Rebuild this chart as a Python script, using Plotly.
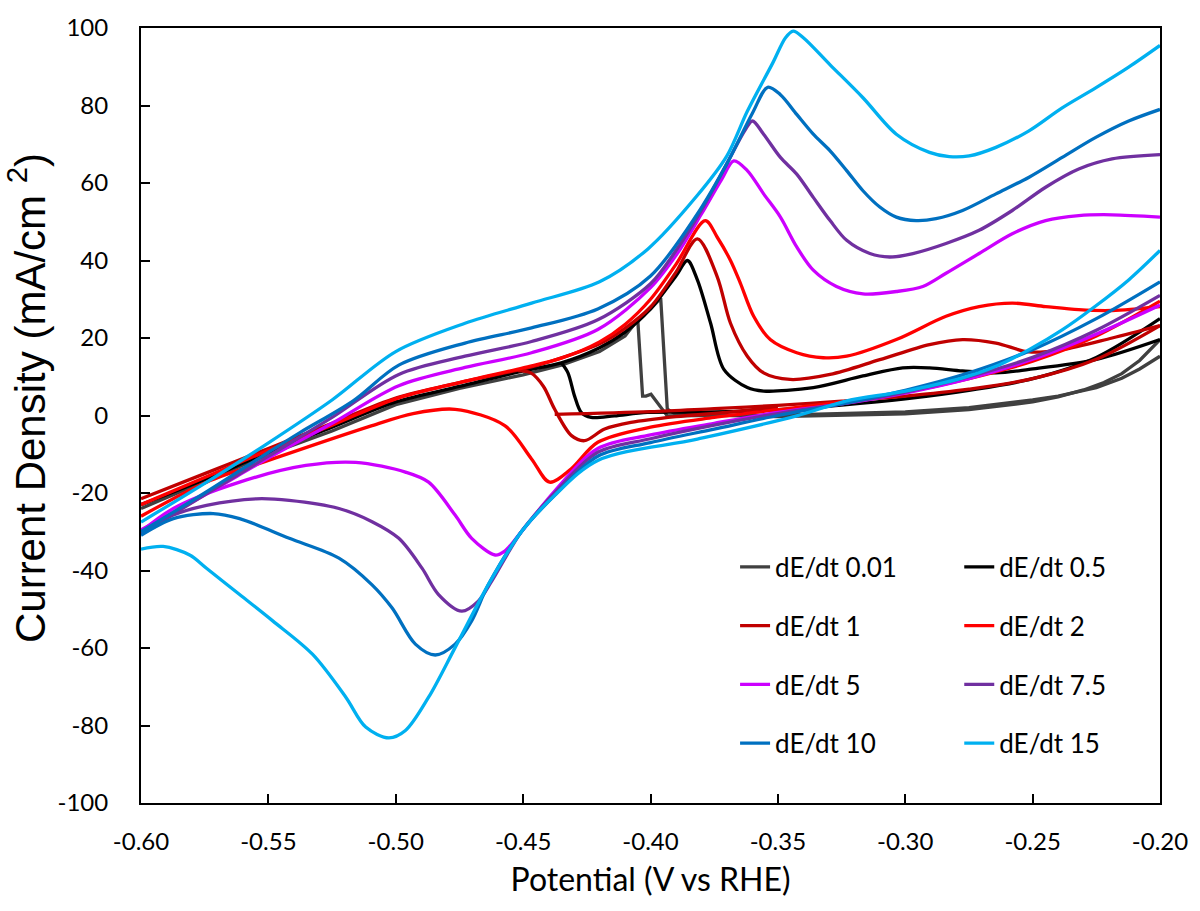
import plotly.graph_objects as go

# ---------------- data (potential V vs RHE, current density mA/cm2) ----------------
names = ["dE/dt 0.01", "dE/dt 0.5", "dE/dt 1", "dE/dt 2",
         "dE/dt 5", "dE/dt 7.5", "dE/dt 10", "dE/dt 15"]
colors = ["#404040", "#000000", "#C00000", "#FF0000",
          "#CC00FF", "#7030A0", "#0070C0", "#00B0F0"]

# dE/dt 0.01
g_fx = [-0.600, -0.575, -0.550, -0.525, -0.500, -0.475, -0.450, -0.435, -0.420, -0.410, -0.405, -0.400, -0.396,
        -0.3934, -0.390, -0.350, -0.300, -0.275, -0.250, -0.240, -0.230, -0.222, -0.215, -0.208, -0.200]
g_fy = [-24.0, -17.0, -10.0, -4.0, 2.8, 7.0, 10.5, 13.0, 16.5, 20.5, 24.7, 27.5, 30.3,
        1.6, 0.3, -0.3, 0.4, 1.5, 3.5, 4.8, 6.6, 8.5, 10.8, 14.2, 19.6]
g_rx = [-0.200, -0.208, -0.215, -0.225, -0.240, -0.250, -0.275, -0.300, -0.350, -0.3934, -0.3998, -0.4018,
        -0.4031, -0.405]
g_ry = [15.3, 12.0, 9.6, 7.2, 5.0, 4.0, 2.0, 0.9, 0.1, -0.1, 5.5, 5.0,
        5.0, 24.7]

# dE/dt 0.5
k_fx = [-0.600, -0.575, -0.550, -0.525, -0.500, -0.475, -0.450, -0.435, -0.420, -0.410, -0.400, -0.390, -0.3855,
        -0.3816, -0.3764, -0.3712, -0.362, -0.3556, -0.3361, -0.3166, -0.301, -0.2905, -0.2775, -0.2644, -0.2514,
        -0.2254, -0.200]
k_fy = [-23.0, -16.5, -9.5, -3.0, 3.5, 7.5, 11.5, 13.6, 17.5, 21.5, 27.5, 36.0, 40.0,
        35.0, 23.8, 11.9, 7.2, 6.3, 7.2, 10.2, 12.3, 12.3, 11.5, 11.0, 11.9,
        14.4, 19.6]
k_rx = [-0.200, -0.225, -0.250, -0.275, -0.300, -0.325, -0.350, -0.375, -0.4012, -0.4142, -0.4233, -0.4272,
        -0.4298, -0.4324, -0.435]
k_ry = [25.0, 15.0, 9.5, 6.5, 4.3, 2.7, 1.5, 0.9, 0.8, -0.1, -0.5, 0.8, 5.0, 11.0, 13.6]

# dE/dt 1
d_fx = [-0.600, -0.575, -0.550, -0.525, -0.500, -0.475, -0.450, -0.440, -0.420, -0.410, -0.400, -0.390,
        -0.3816, -0.3738, -0.3686, -0.362, -0.3556, -0.3452, -0.3295, -0.310, -0.2905, -0.2775, -0.2644,
        -0.2514, -0.2384, -0.2188, -0.200]
d_fy = [-21.5, -15.0, -8.5, -2.0, 4.5, 8.5, 12.0, 13.8, 18.5, 22.5, 28.0, 37.0,
        45.6, 35.8, 23.8, 15.3, 11.0, 9.3, 10.6, 14.4, 18.3, 19.6, 18.7,
        16.4, 17.0, 20.0, 23.2]
d_rx = [-0.200, -0.225, -0.250, -0.275, -0.300, -0.325, -0.350, -0.375, -0.400, -0.4376]
d_ry = [23.2, 14.5, 9.5, 6.8, 5.0, 3.7, 2.6, 1.8, 1.0, 0.3]
d_dx = [-0.452, -0.4470, -0.4420, -0.4376, -0.431, -0.4259, -0.418, -0.4077, -0.390, -0.370, -0.350]
d_dy = [11.6, 11.0, 7.5, 1.6, -5.2, -6.5, -3.5, -1.8, -0.3, 0.8, 2.2]

# dE/dt 2
r_fx = [-0.600, -0.575, -0.550, -0.525, -0.500, -0.475, -0.450, -0.435, -0.420, -0.410, -0.400, -0.390,
        -0.3785, -0.3738, -0.3686, -0.3647, -0.3595, -0.353, -0.3426, -0.3322, -0.323, -0.3035, -0.284,
        -0.271, -0.258, -0.2449, -0.2319, -0.2188, -0.200]
r_fy = [-23.0, -16.0, -9.0, -2.5, 4.3, 8.5, 12.3, 14.8, 19.0, 23.5, 30.0, 39.0,
        50.3, 46.0, 40.0, 34.1, 25.6, 19.6, 16.2, 14.9, 15.3, 19.6, 25.6,
        28.1, 29.0, 28.1, 27.3, 27.1, 28.1]
r_rx = [-0.200, -0.225, -0.250, -0.275, -0.300, -0.325, -0.350, -0.375, -0.400, -0.4207, -0.4312, -0.4396,
        -0.4467, -0.4572, -0.4767, -0.4932, -0.5093, -0.5483, -0.5743, -0.600]
r_ry = [29.5, 20.5, 14.0, 9.5, 6.0, 3.5, 1.5, -0.5, -3.0, -6.9, -13.8, -17.2,
        -11.2, -2.6, 1.6, 0.5, -2.6, -11.2, -17.2, -26.0]

# dE/dt 5
m_fx = [-0.600, -0.575, -0.550, -0.525, -0.4988, -0.4728, -0.4467, -0.4207, -0.400, -0.3895, -0.380, -0.372,
        -0.3673, -0.362, -0.3556, -0.349, -0.3426, -0.3361, -0.327, -0.3166, -0.3035, -0.2931, -0.284, -0.271,
        -0.258, -0.2449, -0.2319, -0.2188, -0.200]
m_fy = [-29.5, -20.5, -11.0, -2.0, 7.7, 12.4, 16.2, 22.2, 33.0, 41.8, 52.0, 61.0,
        65.7, 63.2, 57.2, 51.2, 43.5, 37.5, 33.3, 31.4, 32.0, 33.3, 36.7, 41.8,
        46.9, 50.3, 51.6, 51.8, 51.2]
m_rx = [-0.200, -0.225, -0.250, -0.275, -0.300, -0.325, -0.350, -0.375, -0.400, -0.4207, -0.4376, -0.4507,
        -0.4572, -0.461, -0.4702, -0.4767, -0.4871, -0.4962, -0.5157, -0.5353, -0.5613, -0.5873, -0.600]
m_ry = [28.5, 21.0, 14.5, 9.5, 5.8, 3.0, 0.8, -2.0, -5.0, -8.5, -19.5, -30.0,
        -35.0, -36.0, -31.7, -25.7, -17.2, -14.6, -12.1, -12.9, -17.2, -24.0, -30.0]

# dE/dt 7.5
p_fx = [-0.600, -0.575, -0.550, -0.525, -0.4988, -0.4728, -0.4467, -0.4207, -0.400, -0.3908, -0.380, -0.370,
        -0.363, -0.360, -0.3556, -0.349, -0.3426, -0.3361, -0.3295, -0.323, -0.3139, -0.3061, -0.297, -0.284,
        -0.271, -0.258, -0.2449, -0.2319, -0.2188, -0.200]
p_fy = [-30.5, -20.5, -10.5, -0.5, 10.6, 15.3, 19.1, 24.7, 34.0, 41.8, 53.0, 65.0,
        73.5, 76.0, 72.6, 66.6, 62.3, 56.3, 50.3, 45.2, 41.8, 40.9, 41.8, 44.4,
        47.8, 52.9, 58.9, 63.6, 66.2, 67.3]
p_rx = [-0.200, -0.225, -0.250, -0.275, -0.300, -0.325, -0.350, -0.375, -0.400, -0.4207, -0.4376, -0.4507,
        -0.4624, -0.4676, -0.4741, -0.4832, -0.4897, -0.4988, -0.5093, -0.5223, -0.5418, -0.5548, -0.5743,
        -0.5873, -0.600]
p_ry = [31.0, 22.0, 15.0, 10.0, 6.0, 3.0, 0.5, -2.5, -6.0, -9.5, -20.0, -30.0,
        -42.8, -47.9, -50.5, -46.2, -39.4, -31.7, -27.4, -24.0, -21.9, -21.5, -23.2,
        -25.7, -30.4]

# dE/dt 10
b_fx = [-0.600, -0.575, -0.550, -0.5376, -0.5167, -0.4988, -0.4728, -0.4467, -0.4207, -0.400, -0.3816, -0.370,
        -0.360, -0.354, -0.349, -0.3426, -0.3361, -0.3295, -0.323, -0.3166, -0.310, -0.3035, -0.2957, -0.2879,
        -0.2775, -0.2644, -0.2514, -0.2384, -0.2254, -0.2123, -0.200]
b_fy = [-30.0, -20.0, -9.5, -4.4, 3.8, 13.0, 18.7, 22.6, 27.5, 36.0, 52.0, 65.0,
        78.0, 84.7, 82.8, 77.7, 72.6, 68.3, 63.2, 58.0, 53.8, 51.2, 50.3, 50.8,
        52.9, 57.2, 61.5, 66.6, 71.7, 76.0, 79.0]
b_rx = [-0.200, -0.225, -0.250, -0.275, -0.300, -0.325, -0.350, -0.375, -0.400, -0.4207, -0.4376, -0.4507,
        -0.4637, -0.4702, -0.4767, -0.4845, -0.4923, -0.5014, -0.5093, -0.5223, -0.5418, -0.5613, -0.5717,
        -0.5873, -0.600]
b_ry = [34.5, 25.0, 17.0, 11.0, 6.5, 3.0, 0.0, -3.5, -7.0, -10.5, -20.6, -30.0,
        -43.7, -53.0, -59.0, -61.8, -59.0, -49.7, -43.7, -36.8, -31.7, -26.6, -25.3,
        -26.6, -30.9]

# dE/dt 15
c_fx = [-0.600, -0.575, -0.551, -0.525, -0.500, -0.4728, -0.4467, -0.420, -0.401, -0.382, -0.370, -0.362,
        -0.352, -0.347, -0.344, -0.340, -0.3295, -0.3166, -0.3035, -0.2905, -0.2827, -0.2749, -0.2644,
        -0.2516, -0.2384, -0.2254, -0.2123, -0.200]
c_fy = [-27.5, -17.5, -7.5, 4.0, 16.5, 23.8, 29.0, 34.5, 43.0, 56.5, 67.0, 78.5,
        91.0, 97.5, 99.2, 97.5, 90.5, 82.0, 72.6, 67.9, 66.8, 67.0, 69.2,
        73.4, 79.4, 84.5, 89.9, 95.5]
c_rx = [-0.200, -0.2123, -0.2254, -0.2384, -0.2514, -0.2644, -0.2775, -0.2905, -0.3035, -0.323, -0.3426,
        -0.3816, -0.4207, -0.4376, -0.4507, -0.4637, -0.4767, -0.4871, -0.4962, -0.5027, -0.5118, -0.5196,
        -0.5327, -0.5483, -0.5613, -0.5743, -0.5809, -0.5913, -0.600]
c_ry = [42.6, 35.0, 28.2, 22.1, 17.0, 12.7, 9.7, 7.6, 5.9, 3.8, -0.1,
        -6.1, -11.6, -20.6, -30.0, -43.7, -59.9, -72.7, -81.3, -83.2, -80.4, -72.7,
        -61.6, -53.0, -46.2, -39.4, -36.0, -33.8, -34.5]

x_ticks = [-0.60, -0.55, -0.50, -0.45, -0.40, -0.35, -0.30, -0.25, -0.20]
x_tick_text = ["-0.60", "-0.55", "-0.50", "-0.45", "-0.40", "-0.35", "-0.30", "-0.25", "-0.20"]
y_ticks = [-100, -80, -60, -40, -20, 0, 20, 40, 60, 80, 100]
y_tick_text = ["-100", "-80", "-60", "-40", "-20", "0", "20", "40", "60", "80", "100"]


def join(*segs):
    xs, ys = [], []
    for i in range(0, len(segs), 2):
        if xs:
            xs.append(None)
            ys.append(None)
        xs += list(segs[i])
        ys += list(segs[i + 1])
    return xs, ys


series_xy = [
    join(g_fx, g_fy, g_rx, g_ry),
    join(k_fx, k_fy, k_rx, k_ry),
    join(d_fx, d_fy, d_rx, d_ry, d_dx, d_dy),
    join(r_fx, r_fy, r_rx, r_ry),
    join(m_fx, m_fy, m_rx, m_ry),
    join(p_fx, p_fy, p_rx, p_ry),
    join(b_fx, b_fy, b_rx, b_ry),
    join(c_fx, c_fy, c_rx, c_ry),
]

fig = go.Figure()
for i, (nm, col, (xs, ys)) in enumerate(zip(names, colors, series_xy)):
    shape = "linear" if i == 0 else "spline"
    fig.add_trace(go.Scatter(
        x=xs, y=ys, mode="lines", name=nm,
        line=dict(color=col, width=3.3, shape=shape, smoothing=0.9),
        connectgaps=False,
        legend="legend" if i % 2 == 0 else "legend2",
        legendgroup=nm,
    ))

legend_font = dict(family="Lato, Open Sans, sans-serif", size=26, color="#000000")
common_legend = dict(font=legend_font, bgcolor="rgba(0,0,0,0)", borderwidth=0,
                     tracegroupgap=22, xanchor="left", yanchor="top", itemwidth=30)

fig.update_layout(
    width=1200, height=911,
    margin=dict(l=141, r=30, t=22, b=108),
    paper_bgcolor="white", plot_bgcolor="white",
    showlegend=True,
    legend=dict(x=0.583, y=0.335, **common_legend),
    legend2=dict(x=0.803, y=0.335, **common_legend),
    xaxis=dict(
        range=[-0.6, -0.2], tickvals=x_ticks, ticktext=x_tick_text,
        showgrid=False, zeroline=False, showline=True, linecolor="black", linewidth=2,
        mirror=True, ticks="inside", ticklen=9, tickwidth=1.5, tickcolor="black",
        ticklabelstandoff=16,
        tickfont=dict(family="Lato, Open Sans, sans-serif", size=24, color="black"),
        title=dict(text="Potential (V vs RHE)", standoff=15,
                   font=dict(family="Lato, Open Sans, sans-serif", size=32, color="black")),
    ),
    yaxis=dict(
        range=[-100, 100], tickvals=y_ticks, ticktext=y_tick_text,
        showgrid=False, zeroline=False, showline=True, linecolor="black", linewidth=2,
        mirror=True, ticks="inside", ticklen=9, tickwidth=1.5, tickcolor="black",
        ticklabelstandoff=26,
        tickfont=dict(family="Lato, Open Sans, sans-serif", size=24, color="black"),
        title=dict(text="&nbsp;&nbsp;&nbsp;Current Density (mA/cm <sup>2</sup>)", standoff=12,
                   font=dict(family="Liberation Sans, Arial, sans-serif", size=42, color="black")),
    ),
)

fig.write_html("out.html")
